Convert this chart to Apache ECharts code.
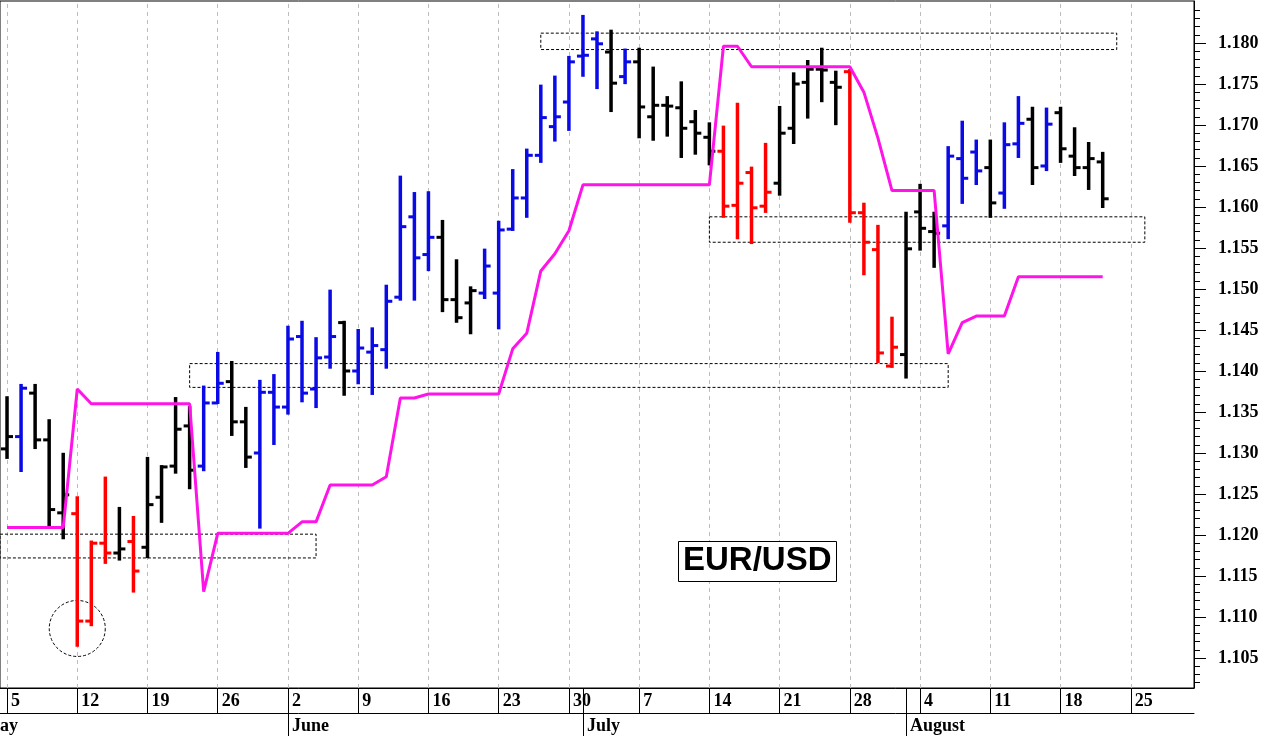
<!DOCTYPE html>
<html>
<head>
<meta charset="utf-8">
<title>EUR/USD</title>
<script src="https://cdn.jsdelivr.net/npm/echarts@6/dist/echarts.min.js"></script>
<style>
  html, body { margin: 0; padding: 0; background: #fff; overflow: hidden; }
  #chart { width: 1265px; height: 736px; }
</style>
</head>
<body>
<div id="chart"></div>
<script>
// trading days, May 5 .. Aug 29 2025
const days = [
  '5/5', '5/6', '5/7', '5/8', '5/9', '5/12', '5/13', '5/14', '5/15', '5/16',
  '5/19', '5/20', '5/21', '5/22', '5/23', '5/26', '5/27', '5/28', '5/29', '5/30',
  '6/2', '6/3', '6/4', '6/5', '6/6', '6/9', '6/10', '6/11', '6/12', '6/13', '6/16', '6/17',
  '6/18', '6/19', '6/20', '6/23', '6/24', '6/25', '6/26', '6/27', '6/30',
  '7/1', '7/2', '7/3', '7/4', '7/7', '7/8', '7/9', '7/10', '7/11', '7/14', '7/15', '7/16',
  '7/17', '7/18', '7/21', '7/22', '7/23', '7/24', '7/25', '7/28', '7/29', '7/30', '7/31',
  '8/1', '8/4', '8/5', '8/6', '8/7', '8/8', '8/11', '8/12', '8/13', '8/14', '8/15',
  '8/18', '8/19', '8/20', '8/21', '8/22', '8/25', '8/26', '8/27', '8/28', '8/29'
];
const monthNames = ['January', 'February', 'March', 'April', 'May', 'June', 'July',
  'August', 'September', 'October', 'November', 'December'];
const firstMonth = 'May'; // month that began before the first visible day

// daily bars from 5/5 to 8/21
const opens = [
  1.1305, 1.1320, 1.1373, 1.1316, 1.1227, 1.1226, 1.1095, 1.1190, 1.1178, 1.1192,
  1.1185, 1.1246, 1.1284, 1.1333, 1.1284, 1.1361, 1.1387, 1.1338, 1.1300, 1.1374,
  1.1356, 1.1442, 1.1378, 1.1417, 1.1459, 1.1400, 1.1423, 1.1426, 1.1490, 1.1588,
  1.1542, 1.1563, 1.1487, 1.1483, 1.1495, 1.1495, 1.1573, 1.1611, 1.1663, 1.1698,
  1.1728, 1.1784, 1.1805, 1.1789, 1.1759, 1.1777, 1.1710, 1.1724, 1.1721, 1.1704,
  1.1685, 1.1668, 1.1602, 1.1642, 1.1601, 1.1629, 1.1696, 1.1752, 1.1768, 1.1752,
  1.1765, 1.1593, 1.1548, 1.1406, 1.1420, 1.1594, 1.1570, 1.1577, 1.1659, 1.1667,
  1.1648, 1.1617, 1.1677, 1.1707, 1.1650, 1.1715, 1.1662, 1.1648, 1.1655
];
const highs = [
  1.1368, 1.1383, 1.1383, 1.1340, 1.1299, 1.1246, 1.1192, 1.1270, 1.1233, 1.1222,
  1.1294, 1.1284, 1.1367, 1.1356, 1.1381, 1.1422, 1.1411, 1.1355, 1.1388, 1.1395,
  1.1454, 1.1460, 1.1440, 1.1498, 1.1460, 1.1450, 1.1452, 1.1504, 1.1637, 1.1617,
  1.1618, 1.1583, 1.1535, 1.1502, 1.1548, 1.1582, 1.1645, 1.1670, 1.1748, 1.1759,
  1.1783, 1.1833, 1.1813, 1.1815, 1.1792, 1.1793, 1.1770, 1.1734, 1.1752, 1.1717,
  1.1702, 1.1698, 1.1726, 1.1648, 1.1677, 1.1722, 1.1763, 1.1778, 1.1793, 1.1765,
  1.1767, 1.1604, 1.1577, 1.1465, 1.1593, 1.1627, 1.1593, 1.1673, 1.1704, 1.1681,
  1.1681, 1.1702, 1.1734, 1.1721, 1.1720, 1.1721, 1.1696, 1.1678, 1.1666
];
const lows = [
  1.1294, 1.1278, 1.1306, 1.1210, 1.1196, 1.1065, 1.1090, 1.1166, 1.1170, 1.1131,
  1.1173, 1.1216, 1.1276, 1.1257, 1.1279, 1.1361, 1.1322, 1.1283, 1.1209, 1.1311,
  1.1348, 1.1363, 1.1356, 1.1404, 1.1371, 1.1385, 1.1372, 1.1404, 1.1487, 1.1487,
  1.1523, 1.1473, 1.1460, 1.1446, 1.1489, 1.1452, 1.1572, 1.1588, 1.1655, 1.1681,
  1.1694, 1.1760, 1.1745, 1.1717, 1.1751, 1.1685, 1.1682, 1.1687, 1.1661, 1.1665,
  1.1652, 1.1588, 1.1562, 1.1556, 1.1594, 1.1615, 1.1678, 1.1709, 1.1729, 1.1701,
  1.1582, 1.1518, 1.1411, 1.1405, 1.1392, 1.1548, 1.1527, 1.1562, 1.1605, 1.1628,
  1.1588, 1.1599, 1.1661, 1.1628, 1.1645, 1.1655, 1.1639, 1.1622, 1.1600
];
const closes = [
  1.1320, 1.1379, 1.1316, 1.1231, 1.1249, 1.1095, 1.1190, 1.1178, 1.1183, 1.1156,
  1.1237, 1.1283, 1.1329, 1.1279, 1.1361, 1.1385, 1.1338, 1.1295, 1.1374, 1.1356,
  1.1439, 1.1373, 1.1416, 1.1442, 1.1400, 1.1428, 1.1431, 1.1485, 1.1576, 1.1538,
  1.1563, 1.1487, 1.1465, 1.1498, 1.1528, 1.1572, 1.1611, 1.1663, 1.1709, 1.1710,
  1.1777, 1.1785, 1.1799, 1.1751, 1.1777, 1.1722, 1.1724, 1.1723, 1.1696, 1.1690,
  1.1668, 1.1601, 1.1629, 1.1599, 1.1618, 1.1690, 1.1750, 1.1768, 1.1767, 1.1746,
  1.1593, 1.1557, 1.1422, 1.1429, 1.1549, 1.1574, 1.1568, 1.1662, 1.1635, 1.1644,
  1.1605, 1.1676, 1.1702, 1.1648, 1.1701, 1.1671, 1.1648, 1.1659, 1.1610
];
// k = black, b = blue, r = red
const barColors = ('kbkkkrrrkr' + 'kkkkbbkkbb' + 'bbbbkbbbbb' + 'bkkkbbbbbb' +
  'bbbkbkkkkk' + 'krrrrkkkkk' + 'rrrrkkkbbb' + 'kbbkbkkkk').split('');
const palette = { k: '#000000', b: '#0a0ae6', r: '#ff0000' };

// magenta stop line, same days as the bars
const stopLine = [
  1.1209, 1.1209, 1.1209, 1.1209, 1.1209, 1.1378, 1.1360, 1.1360, 1.1360, 1.1360,
  1.1360, 1.1360, 1.1360, 1.1360, 1.1131, 1.1202, 1.1202, 1.1202, 1.1202, 1.1202,
  1.1202, 1.1216, 1.1216, 1.1261, 1.1261, 1.1261, 1.1261, 1.1271, 1.1367, 1.1367,
  1.1372, 1.1372, 1.1372, 1.1372, 1.1372, 1.1372, 1.1427, 1.1446, 1.1522, 1.1543,
  1.1571, 1.1627, 1.1627, 1.1627, 1.1627, 1.1627, 1.1627, 1.1627, 1.1627, 1.1627,
  1.1627, 1.1796, 1.1796, 1.1771, 1.1771, 1.1771, 1.1771, 1.1771, 1.1771, 1.1771,
  1.1771, 1.1740, 1.1684, 1.1620, 1.1620, 1.1620, 1.1620, 1.1421, 1.1459, 1.1467,
  1.1467, 1.1467, 1.1515, 1.1515, 1.1515, 1.1515, 1.1515, 1.1515, 1.1515
];

// dotted zones (null start = from the left edge)
const zoneFrom = [null, '5/22', '6/26', '7/14'];
const zoneTo = ['6/4', '8/6', '8/22', '8/26'];
const zoneHigh = [1.1201, 1.1409, 1.1812, 1.1588];
const zoneLow = [1.1172, 1.1380, 1.1792, 1.1557];
const circleAt = ['5/12', 1.1086];

const yTicks = [1.105, 1.110, 1.115, 1.120, 1.125, 1.130, 1.135, 1.140,
  1.145, 1.150, 1.155, 1.160, 1.165, 1.170, 1.175, 1.180];
const yMinorTicks = [];
yTicks.forEach(t => { for (let k = -3; k <= 4; k++) if (k) yMinorTicks.push(+(t + k * 0.001).toFixed(3)); });
const yMin = 1.10134, yMax = 1.18512;

const parts = d => d.split('/').map(Number);
const isMonday = d => { const [m, dd] = parts(d); return new Date(2025, m - 1, dd).getDay() === 1; };
const isMonthStart = i => i > 0 && parts(days[i])[0] !== parts(days[i - 1])[0];

const barData = opens.map((o, i) => [i, o, highs[i], lows[i], closes[i]]);

function renderBar(params, api) {
  const x = api.value(0);
  const o = api.coord([x, api.value(1)]);
  const h = api.coord([x, api.value(2)]);
  const l = api.coord([x, api.value(3)]);
  const c = api.coord([x, api.value(4)]);
  const color = palette[barColors[params.dataIndex]];
  const tick = { stroke: color, lineWidth: 3 };
  return {
    type: 'group',
    children: [
      { type: 'line', shape: { x1: h[0], y1: h[1] - 1, x2: l[0], y2: l[1] + 1 }, style: { stroke: color, lineWidth: 3.5 } },
      { type: 'line', shape: { x1: o[0] - 6, y1: o[1], x2: o[0], y2: o[1] }, style: tick },
      { type: 'line', shape: { x1: c[0], y1: c[1], x2: c[0] + 6, y2: c[1] }, style: tick }
    ]
  };
}

const serif = 'Liberation Serif';
const chart = echarts.init(document.getElementById('chart'));
chart.setOption({
  animation: false,
  backgroundColor: '#fff',
  title: {
    text: 'EUR/USD',
    left: 678, top: 541,
    padding: [2, 5, 3, 5],
    borderColor: '#000', borderWidth: 1,
    backgroundColor: '#fff',
    textStyle: { fontFamily: 'Liberation Sans', fontWeight: 'bold', fontSize: 33, lineHeight: 36, color: '#000' }
  },
  graphic: [{
    type: 'text', left: -17, top: 717, silent: true,
    style: { text: firstMonth, font: 'bold 18px "Liberation Serif"', fill: '#000' }
  }],
  grid: {
    left: 0, right: 71, top: 1, bottom: 48,
    show: true, borderColor: '#000', borderWidth: 1, backgroundColor: '#fff'
  },
  xAxis: [{
    type: 'category',
    data: days,
    position: 'bottom',
    axisLine: { show: true, lineStyle: { color: '#000', width: 1 } },
    axisTick: {
      show: true, alignWithLabel: true, length: 25, lineStyle: { color: '#000', width: 1 },
      interval: (i, d) => isMonday(d) || isMonthStart(i)
    },
    axisLabel: {
      interval: (i, d) => isMonday(d),
      formatter: d => String(parts(d)[1]),
      align: 'left', verticalAlign: 'middle', margin: 13, padding: [0, 0, 0, 4],
      fontFamily: serif, fontWeight: 'bold', fontSize: 18, color: '#000'
    },
    splitLine: { show: false }
  }, {
    type: 'category',
    data: days,
    position: 'bottom',
    offset: 25,
    axisLine: { show: true, lineStyle: { color: '#000', width: 1 } },
    axisTick: {
      show: true, alignWithLabel: true, length: 23, lineStyle: { color: '#000', width: 1 },
      interval: i => isMonthStart(i)
    },
    axisLabel: {
      interval: i => isMonthStart(i),
      formatter: d => monthNames[parts(d)[0] - 1],
      align: 'left', verticalAlign: 'middle', margin: 13, padding: [0, 0, 0, 4],
      fontFamily: serif, fontWeight: 'bold', fontSize: 18, color: '#000'
    },
    splitLine: { show: false }
  }],
  yAxis: [{
    type: 'value',
    position: 'right',
    min: yMin, max: yMax,
    axisLine: { show: true, lineStyle: { color: '#000', width: 1 } },
    axisTick: { show: true, customValues: yTicks, length: 12, lineStyle: { color: '#000' } },
    axisLabel: {
      customValues: yTicks, margin: 24,
      formatter: v => v.toFixed(3),
      fontFamily: serif, fontWeight: 'bold', fontSize: 18, color: '#000'
    },
    splitLine: { show: false }
  }, {
    type: 'value',
    position: 'right',
    min: yMin, max: yMax,
    axisLine: { show: false },
    axisTick: { show: true, customValues: yMinorTicks, length: 6, lineStyle: { color: '#000' } },
    axisLabel: { show: false },
    splitLine: { show: false }
  }],
  series: [{
    name: 'bars',
    type: 'custom',
    renderItem: renderBar,
    data: barData,
    encode: { x: 0, y: [1, 2, 3, 4] },
    z: 3,
    silent: true
  }, {
    name: 'stop',
    type: 'line',
    data: stopLine,
    symbol: 'none',
    lineStyle: { color: '#ff14e8', width: 3 },
    z: 4,
    silent: true,
    markLine: {
      silent: true, z: 1,
      symbol: ['none', 'none'],
      label: { show: false },
      lineStyle: { color: '#bdbdbd', type: [4, 4], width: 1 },
      data: days.filter(isMonday).map(d => ({ xAxis: d }))
    },
    markArea: {
      silent: true, z: 2,
      itemStyle: { color: 'rgba(0,0,0,0)', borderColor: '#000', borderWidth: 1, borderType: [3, 2] },
      label: { show: false },
      data: zoneFrom.map((f, i) => [
        f ? { xAxis: f, yAxis: zoneHigh[i] } : { yAxis: zoneHigh[i] },
        { xAxis: zoneTo[i], yAxis: zoneLow[i] }
      ])
    },
    markPoint: {
      silent: true, z: 2,
      symbol: 'circle', symbolSize: 56,
      itemStyle: { color: 'rgba(0,0,0,0)', borderColor: '#000', borderWidth: 1, borderType: [3, 2] },
      label: { show: false },
      data: [{ coord: circleAt }]
    }
  }]
});
</script>
</body>
</html>
